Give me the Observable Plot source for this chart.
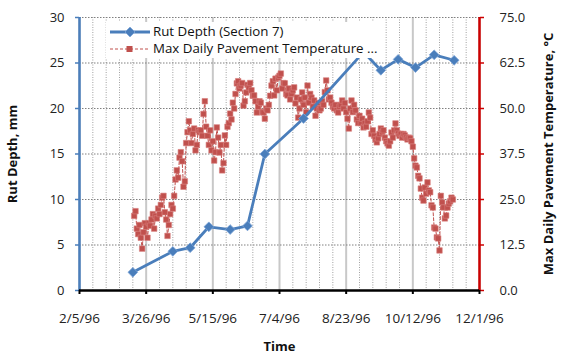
<!DOCTYPE html>
<html><head><meta charset="utf-8">
<script src="https://cdn.jsdelivr.net/npm/d3@7"></script>
<script src="https://cdn.jsdelivr.net/npm/@observablehq/plot@0.6"></script>
<style>
body{margin:0;background:#fff;}
#wrap{position:relative;width:570px;height:356px;font-family:"Open Sans",sans-serif;}
#legend{position:absolute;left:106px;top:22px;width:272px;height:36px;background:#fff;font-size:13.3px;color:#111;}
#legend .row{position:absolute;left:0;height:18px;white-space:nowrap;}
#legend svg{position:absolute;left:0;top:0;}
#legend span{position:absolute;left:47px;top:-1px;line-height:18px;}
</style></head><body><div id="wrap"></div>
<script>
const xTickLabels = ["2/5/96","3/26/96","5/15/96","7/4/96","8/23/96","10/12/96","12/1/96"];
const rutTicks = [0,5,10,15,20,25,30];
const tempTicks = [0,12.5,25,37.5,50,62.5,75];
const rutDates = ["1996-03-16","1996-04-15","1996-04-28","1996-05-12","1996-05-28","1996-06-10","1996-06-23","1996-07-22","1996-09-05","1996-09-18","1996-10-01","1996-10-14","1996-10-28","1996-11-12"];
const rutDepth = [2.0,4.3,4.7,7.0,6.7,7.1,15.0,18.9,26.2,24.2,25.4,24.5,25.9,25.3];
const tempStart = "1996-03-17";
const tempValues = [
20.5,21.8,17.0,15.5,18.0,14.5,11.5,16.0,18.5,17.5,
14.5,18.5,17.8,19.5,21.0,17.0,20.5,19.8,22.5,21.0,
23.5,25.5,26.0,21.5,19.5,15.0,18.0,21.0,23.5,22.5,
26.0,30.5,33.0,31.0,36.5,38.0,35.5,28.5,30.0,40.5,
43.5,46.5,44.0,40.5,43.0,44.5,38.5,40.0,44.0,43.5,
44.0,42.5,48.5,52.0,45.0,42.5,40.0,44.0,38.5,41.0,
35.7,38.0,44.8,42.0,37.9,40.0,33.0,35.0,42.6,40.0,
45.0,46.0,48.6,47.0,51.6,50.0,54.0,56.9,57.5,55.5,
56.3,57.0,50.8,52.0,54.4,56.5,55.8,57.0,55.0,53.5,
53.6,52.0,48.9,50.5,52.0,51.6,49.0,48.9,47.2,50.0,
49.5,51.0,53.5,56.3,57.5,53.6,58.2,55.0,58.5,59.0,
59.6,55.5,57.0,56.9,54.0,53.6,55.5,52.5,54.0,55.0,
55.8,51.4,53.0,47.5,50.0,52.5,54.4,51.0,53.0,49.0,
56.3,51.6,54.0,53.0,50.5,52.2,48.0,50.0,51.5,49.5,
50.0,52.0,51.0,54.5,57.7,55.0,52.5,53.0,51.6,50.5,
50.0,51.0,49.5,48.9,50.5,51.0,52.2,50.0,51.5,49.0,
47.2,44.5,50.0,52.2,49.0,51.0,49.5,47.0,46.0,48.0,
46.0,47.2,44.8,46.0,45.0,46.5,48.9,47.5,43.0,44.0,
42.5,41.5,40.7,41.8,43.0,44.5,43.5,44.0,42.0,41.0,
40.4,39.8,41.0,43.4,42.0,44.0,45.9,44.0,43.1,42.5,
43.0,42.0,43.0,42.6,42.0,41.5,42.0,41.8,41.0,39.5,
36.3,34.3,33.8,31.5,30.8,28.0,25.5,24.7,28.3,26.6,
29.7,27.5,27.0,23.4,22.8,17.3,17.0,14.6,14.3,11.0,
26.0,24.2,22.8,19.8,20.6,22.8,23.9,24.5,25.5,25.0
];

const BLUE = "#4A7EBB", RED = "#C0504D";
const parseTick = d3.utcParse("%m/%d/%y");
const majorDates = xTickLabels.map(parseTick);
const xDomain = [majorDates[0], majorDates[majorDates.length - 1]];
const minorDates = d3.utcDay.range(xDomain[0], d3.utcDay.offset(xDomain[1], 1), 10)
  .filter((d, i) => i % 5 !== 0);
const k = rutTicks[rutTicks.length - 1] / tempTicks[tempTicks.length - 1];

const rut = rutDates.map((d, i) => ({date: new Date(d), v: rutDepth[i]}));
const t0 = new Date(tempStart);
const temp = tempValues.map((v, i) => ({date: d3.utcDay.offset(t0, i), v}));

const chart = Plot.plot({
  width: 570, height: 356,
  marginLeft: 79, marginRight: 91, marginTop: 17, marginBottom: 66,
  style: {fontFamily: "Open Sans, sans-serif", fontSize: "13px", background: "#fff"},
  x: {type: "utc", domain: xDomain},
  y: {domain: [0, 30]},
  marks: [
    Plot.gridX(minorDates, {stroke: "#a0a0a0", strokeOpacity: 1, strokeDasharray: "1,1.5"}),
    Plot.gridX(majorDates, {stroke: "#c8c8c8", strokeOpacity: 1, strokeWidth: 2}),
    Plot.gridY(rutTicks, {stroke: "#808080", strokeOpacity: 1, strokeDasharray: "1.5,1.5"}),
    Plot.line(temp, {x: "date", y: d => d.v * k, stroke: RED, strokeWidth: 1, strokeDasharray: "3,2"}),
    Plot.dot(temp, {x: "date", y: d => d.v * k, symbol: "square", r: 3.1, fill: RED, stroke: "#d9807e", strokeWidth: 0.6}),
    Plot.line(rut, {x: "date", y: "v", stroke: BLUE, strokeWidth: 2.8}),
    Plot.dot(rut, {x: "date", y: "v", symbol: "diamond2", r: 4.4, fill: BLUE, stroke: "#7fa6d8", strokeWidth: 0.8}),
    Plot.ruleX([xDomain[0]], {stroke: BLUE, strokeWidth: 2.5}),
    Plot.ruleX([xDomain[1]], {stroke: "#cc0000", strokeWidth: 2.5}),
    Plot.ruleY([0], {stroke: "#000", strokeWidth: 2.5}),
    Plot.axisY(rutTicks, {anchor: "left", tickSize: 4, tickPadding: 11, stroke: BLUE, strokeWidth: 1.5, color: "#222", label: null, fontSize: 13}),
    Plot.axisY(tempTicks.map(t => t * k), {anchor: "right", tickSize: 4, tickPadding: 16, stroke: "#cc0000", strokeWidth: 1.5, color: "#222", label: null, fontSize: 13, tickFormat: d => (d / k).toFixed(1)}),
    Plot.axisX(majorDates, {anchor: "bottom", tickSize: 4, tickPadding: 19, stroke: "#000", strokeWidth: 2, color: "#222", label: null, fontSize: 13.5, tickFormat: (d, i) => xTickLabels[i]}),
    Plot.text(["Time"], {frameAnchor: "bottom", dy: 56, textAnchor: "middle", lineAnchor: "middle", fontWeight: "bold", fontSize: 13, fill: "#111"}),
    Plot.text(["Rut Depth, mm"], {frameAnchor: "left", dx: -67, rotate: -90, textAnchor: "middle", lineAnchor: "middle", fontWeight: "bold", fontSize: 13, fill: "#111"}),
    Plot.text(["Max Daily Pavement Temperature, \u00B0C"], {frameAnchor: "right", dx: 69, rotate: -90, textAnchor: "middle", lineAnchor: "middle", fontWeight: "bold", fontSize: 13, fill: "#111"})
  ]
});
const wrap = document.getElementById("wrap");
wrap.appendChild(chart);

const legend = document.createElement("div");
legend.id = "legend";
legend.innerHTML = `
<div class="row" style="top:1px"><svg width="46" height="18"><line x1="4" x2="44" y1="9" y2="9" stroke="${BLUE}" stroke-width="2.8"/><path d="M24,4L29,9L24,14L19,9Z" fill="${BLUE}" stroke="#7fa6d8" stroke-width="0.8"/></svg><span>Rut Depth (Section 7)</span></div>
<div class="row" style="top:18px"><svg width="46" height="18"><line x1="4" x2="44" y1="9" y2="9" stroke="${RED}" stroke-width="1" stroke-dasharray="3,2"/><rect x="20.5" y="6" width="6" height="6" fill="${RED}"/></svg><span>Max Daily Pavement Temperature ...</span></div>`;
wrap.appendChild(legend);
</script></body></html>
